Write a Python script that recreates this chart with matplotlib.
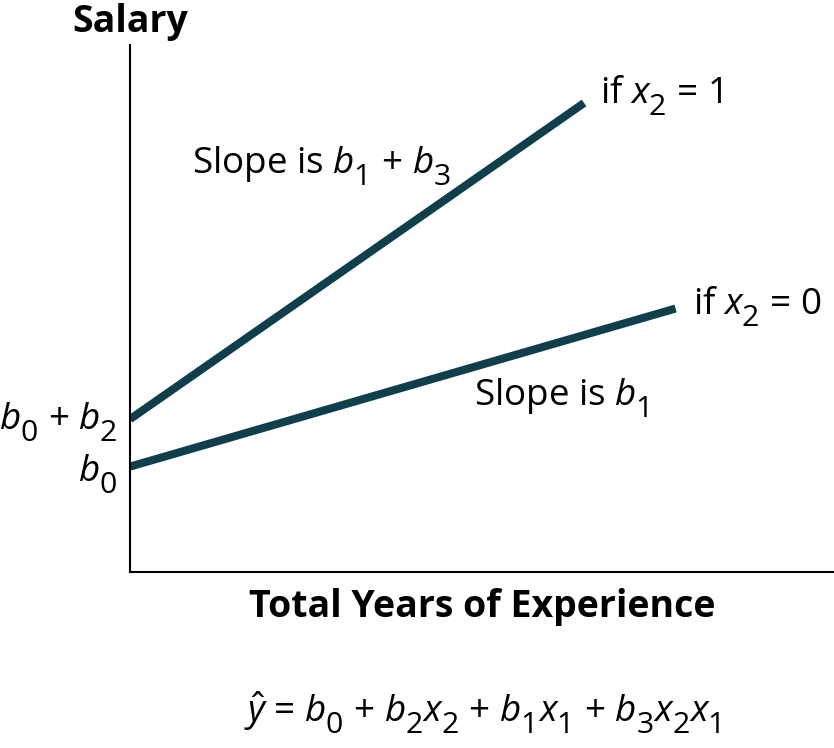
import matplotlib
matplotlib.use('Agg')
from matplotlib import pyplot as plt
import matplotlib._mathtext as mt

plt.rcParams['font.family'] = ['Open Sans', 'DejaVu Sans']
plt.rcParams['mathtext.fontset'] = 'custom'
plt.rcParams['mathtext.rm'] = 'Open Sans'
plt.rcParams['mathtext.it'] = 'Open Sans:italic'

# bigger, lower subscripts like the original drawing
mt.SHRINK_FACTOR = 0.82
mt.FontConstantsBase.sub1 = 0.6
mt.FontConstantsBase.delta = 0.15

# two lines: x2 = 1 (upper) and x2 = 0 (lower)
x_upper = [0, 6.45]
y_upper = [2.9, 8.9]
x_lower = [0, 7.75]
y_lower = [2.0, 5.0]

tick_vals = [2.9, 2.0]
tick_labels = [r'$b_0$ + $b_2$', r'$b_0$']

line_color = '#0f3f4c'
W, H = 834, 748

fig = plt.figure(figsize=(W / 100, H / 100), dpi=100)
ax = fig.add_axes([130 / W, 176 / H, 704 / W, 527 / H])

ax.plot(x_upper, y_upper, color=line_color, lw=5.8, solid_capstyle='butt')
ax.plot(x_lower, y_lower, color=line_color, lw=5.8, solid_capstyle='butt')

ax.set_xlim(0, 10)
ax.set_ylim(0, 10)
ax.spines['top'].set_visible(False)
ax.spines['right'].set_visible(False)
ax.spines['left'].set_linewidth(1.5)
ax.spines['bottom'].set_linewidth(1.5)
ax.set_xticks([])
ax.set_yticks([])

fs = 26.5
# intercept labels, drawn as text so the baseline sits like the original
ax.text(-0.185, tick_vals[0] - 0.19, tick_labels[0], fontsize=fs, ha='right', va='baseline',
        clip_on=False)
ax.text(-0.185, tick_vals[1] - 0.27, tick_labels[1], fontsize=fs, ha='right', va='baseline',
        clip_on=False)

ax.text(6.68, 8.9, r'if $x_2$ = 1', fontsize=fs, va='baseline')
ax.text(8.0, 4.9, r'if $x_2$ = 0', fontsize=fs, va='baseline')
ax.text(0.88, 7.57, r'Slope is $b_1$ + $b_3$', fontsize=fs, va='baseline')
ax.text(4.89, 3.17, r'Slope is $b_1$', fontsize=fs, va='baseline')

fig.text(130 / W, 1 - 32 / H, 'Salary', fontsize=27, fontweight='bold', ha='center', va='baseline')
fig.text(482 / W, 1 - 617 / H, 'Total Years of Experience', fontsize=27, fontweight='bold',
         ha='center', va='baseline')
fig.text(482 / W, 1 - 722 / H, r'$\hat{y}$ = $b_0$ + $b_2x_2$ + $b_1x_1$ + $b_3x_2x_1$',
         fontsize=fs, ha='center', va='baseline')

fig.savefig('out.png', dpi=100)
